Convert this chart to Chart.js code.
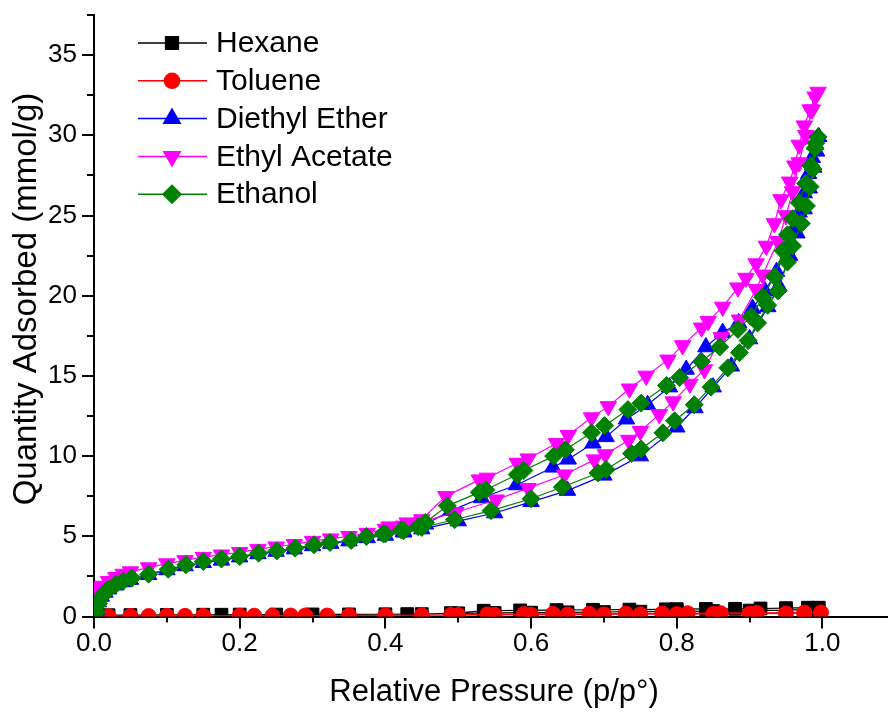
<!DOCTYPE html>
<html>
<head>
<meta charset="utf-8">
<script src="https://cdn.jsdelivr.net/npm/chart.js@4.4.1/dist/chart.umd.min.js"></script>
<style>
  html, body { margin: 0; padding: 0; background: #ffffff; }
  #wrap { width: 888px; height: 713px; }
</style>
</head>
<body>
<div id="wrap"><canvas id="isotherm" width="888" height="713"></canvas></div>
<script>
// Series names in legend order
const seriesNames = ['Hexane', 'Toluene', 'Diethyl Ether', 'Ethyl Acetate', 'Ethanol'];

// Axis tick labels (major ticks) and titles
const xMajorValues = [0, 0.2, 0.4, 0.6, 0.8, 1.0];
const xTickLabels = ['0.0', '0.2', '0.4', '0.6', '0.8', '1.0'];
const yMajorValues = [0, 5, 10, 15, 20, 25, 30, 35];
const yTickLabels = ['0', '5', '10', '15', '20', '25', '30', '35'];
const xTitle = 'Relative Pressure (p/p°)';
const yTitle = 'Quantity Adsorbed (mmol/g)';

// Hexane: adsorption then desorption (p/p°, mmol/g)
const hexaneAdsP = [0.005,0.02,0.05,0.1,0.15,0.175,0.2,0.25,0.3,0.35,0.4,0.43,0.45,0.49,0.5,0.55,0.6,0.65,0.7,0.75,0.8,0.85,0.9,0.95,0.98,0.995];
const hexaneAdsQ = [0.05,0.08,0.09,0.1,0.11,0.11,0.12,0.12,0.13,0.13,0.14,0.15,0.15,0.2,0.2,0.22,0.24,0.26,0.28,0.3,0.32,0.34,0.37,0.4,0.45,0.55];
const hexaneDesP = [0.98,0.95,0.915,0.88,0.84,0.8,0.785,0.735,0.685,0.635,0.585,0.535,0.49];
const hexaneDesQ = [0.55,0.52,0.5,0.48,0.47,0.46,0.45,0.43,0.42,0.4,0.38,0.36,0.2];

// Toluene
const tolueneAdsP = [0.02,0.05,0.075,0.1,0.125,0.15,0.2,0.22,0.245,0.27,0.29,0.32,0.35,0.4,0.45,0.5,0.55,0.6,0.65,0.7,0.75,0.8,0.85,0.9,0.95,0.975,0.998];
const tolueneAdsQ = [0.02,0.03,0.03,0.04,0.04,0.04,0.05,0.05,0.05,0.06,0.06,0.06,0.07,0.07,0.08,0.09,0.1,0.11,0.12,0.13,0.14,0.15,0.16,0.17,0.19,0.21,0.25];
const tolueneDesP = [0.975,0.91,0.86,0.815,0.78,0.73,0.68,0.63,0.59,0.54,0.49];
const tolueneDesQ = [0.24,0.22,0.21,0.2,0.19,0.18,0.17,0.16,0.15,0.13,0.1];

// Diethyl Ether
const etherAdsP = [0.003,0.006,0.01,0.015,0.02,0.03,0.04,0.05,0.075,0.1,0.125,0.15,0.175,0.2,0.225,0.25,0.275,0.3,0.325,0.35,0.375,0.4,0.425,0.45,0.5,0.55,0.6,0.65,0.7,0.75,0.8,0.825,0.85,0.875,0.9,0.925,0.94,0.955,0.965,0.975,0.982,0.988,0.992,0.995];
const etherAdsQ = [0.4,0.9,1.25,1.5,1.7,1.95,2.15,2.3,2.6,2.9,3.15,3.35,3.5,3.7,3.9,4.05,4.2,4.4,4.55,4.7,4.9,5.05,5.25,5.45,5.95,6.45,7.15,7.85,8.8,10.0,11.8,13.0,14.3,15.6,17.3,19.3,20.6,22.5,23.9,25.4,26.7,28.0,29.0,29.9];
const etherDesP = [0.99,0.986,0.981,0.975,0.968,0.96,0.95,0.937,0.921,0.904,0.885,0.863,0.84,0.813,0.79,0.76,0.731,0.703,0.685,0.651,0.63,0.58,0.532,0.49,0.455,0.425];
const etherDesQ = [29.4,28.6,27.6,26.4,25.2,24.1,22.9,21.5,20.3,19.2,18.3,17.7,16.8,15.4,14.3,13.2,12.3,11.2,10.8,9.8,9.3,8.2,7.39,6.6,5.75,5.3];

// Ethyl Acetate
const acetateAdsP = [0.002,0.005,0.01,0.02,0.03,0.04,0.05,0.075,0.1,0.125,0.15,0.175,0.2,0.225,0.25,0.275,0.3,0.325,0.35,0.375,0.4,0.425,0.45,0.497,0.552,0.596,0.646,0.687,0.702,0.734,0.75,0.776,0.795,0.818,0.838,0.861,0.886,0.909,0.918,0.939,0.95,0.959,0.968,0.977,0.986,0.994];
const acetateAdsQ = [1.5,1.7,1.9,2.2,2.45,2.65,2.8,3.05,3.3,3.5,3.7,3.85,4.0,4.2,4.35,4.5,4.7,4.85,5.0,5.2,5.45,5.65,5.9,6.5,7.28,8.0,8.84,9.78,10.1,11.0,11.55,12.6,13.4,14.5,15.4,17.4,18.5,20.4,21.3,23.4,25.0,26.5,28.3,30.0,31.6,32.7];
const acetateDesP = [0.99,0.983,0.975,0.968,0.962,0.955,0.943,0.934,0.923,0.909,0.895,0.884,0.863,0.843,0.834,0.808,0.788,0.758,0.735,0.706,0.683,0.651,0.635,0.596,0.581,0.54,0.529,0.483,0.45,0.43,0.405];
const acetateDesQ = [32.4,31.6,30.6,29.4,28.1,27.1,26.0,24.5,23.1,22.0,21.1,20.5,19.3,18.4,18.0,16.9,16.0,15.0,14.2,13.1,12.4,11.3,10.8,9.84,9.57,8.64,8.53,7.49,6.05,5.85,5.6];

// Ethanol
const ethanolAdsP = [0.003,0.006,0.01,0.015,0.02,0.03,0.04,0.052,0.075,0.102,0.126,0.15,0.175,0.2,0.226,0.251,0.276,0.302,0.324,0.353,0.374,0.4,0.425,0.45,0.495,0.545,0.6,0.643,0.692,0.703,0.738,0.751,0.781,0.797,0.824,0.847,0.87,0.886,0.898,0.911,0.925,0.939,0.952,0.959,0.971,0.978,0.983,0.987,0.991,0.994];
const ethanolAdsQ = [0.3,0.8,1.2,1.5,1.7,2.0,2.2,2.39,2.64,2.95,3.22,3.43,3.58,3.74,3.95,4.09,4.26,4.47,4.61,4.74,4.99,5.15,5.35,5.55,6.03,6.6,7.34,8.07,8.95,9.16,10.16,10.45,11.45,12.2,13.2,14.3,15.5,16.45,17.2,18.3,19.4,20.3,22.1,23.1,24.5,25.6,26.8,27.9,29.5,29.9];
const ethanolDesP = [0.99,0.984,0.977,0.968,0.959,0.952,0.946,0.934,0.918,0.902,0.884,0.859,0.834,0.804,0.786,0.751,0.733,0.701,0.683,0.647,0.631,0.59,0.581,0.538,0.529,0.485,0.455,0.445,0.422,0.397];
const ethanolDesQ = [29.2,28.1,27.0,25.8,24.8,23.8,22.8,21.2,19.9,18.7,17.9,16.8,15.9,14.9,14.4,13.3,12.9,11.9,11.45,10.4,10.0,9.1,8.85,7.9,7.74,6.9,5.86,5.6,5.4,5.16];

const FONT = '"Liberation Sans", Arial, Helvetica, sans-serif';

// Join an adsorption branch and its desorption branch into one loop of {x, y} points
function loop(adsP, adsQ, desP, desQ) {
  const pts = adsP.map((p, i) => ({ x: p, y: adsQ[i] }));
  return pts.concat(desP.map((p, i) => ({ x: p, y: desQ[i] })));
}

function series(name, data, color, style, radius, rotation, order) {
  return {
    label: name,
    data: data,
    showLine: true,
    borderColor: color,
    borderWidth: 1.2,
    backgroundColor: color,
    pointStyle: style,
    pointRotation: rotation,
    pointRadius: radius,
    pointBackgroundColor: color,
    pointBorderColor: color,
    pointBorderWidth: 1,
    tension: 0,
    clip: 0,
    order: order
  };
}

const datasets = [
  series(seriesNames[0], loop(hexaneAdsP, hexaneAdsQ, hexaneDesP, hexaneDesQ), '#000000', 'rect', 9, 0, 4),
  series(seriesNames[1], loop(tolueneAdsP, tolueneAdsQ, tolueneDesP, tolueneDesQ), '#ff0000', 'circle', 7.5, 0, 3),
  series(seriesNames[2], loop(etherAdsP, etherAdsQ, etherDesP, etherDesQ), '#0000ff', 'triangle', 9.5, 0, 2),
  series(seriesNames[3], loop(acetateAdsP, acetateAdsQ, acetateDesP, acetateDesQ), '#ff00ff', 'triangle', 9.5, 180, 1),
  series(seriesNames[4], loop(ethanolAdsP, ethanolAdsQ, ethanolDesP, ethanolDesQ), '#008000', 'rectRot', 9, 0, 0)
];

function labelFor(values, labels, v) {
  const i = values.findIndex(m => Math.abs(m - v) < 1e-6);
  return i >= 0 ? labels[i] : '';
}

// Outward major/minor tick marks on both axes
const tickMarks = {
  id: 'tickMarks',
  afterDraw(chart) {
    const { ctx, chartArea: a, scales: { x, y } } = chart;
    ctx.save();
    ctx.strokeStyle = '#000000';
    ctx.lineWidth = 2;
    x.ticks.forEach(t => {
      const px = Math.round(x.getPixelForValue(t.value));
      const len = t.label ? 12 : 6;
      ctx.beginPath();
      ctx.moveTo(px, a.bottom);
      ctx.lineTo(px, a.bottom + len);
      ctx.stroke();
    });
    y.ticks.forEach(t => {
      const py = Math.round(y.getPixelForValue(t.value));
      const len = t.label ? 12 : 7;
      ctx.beginPath();
      ctx.moveTo(a.left, py);
      ctx.lineTo(a.left - len, py);
      ctx.stroke();
    });
    ctx.restore();
  }
};

// Axis titles
const axisTitles = {
  id: 'axisTitles',
  afterDraw(chart) {
    const { ctx, chartArea: a } = chart;
    ctx.save();
    ctx.fillStyle = '#000000';
    ctx.textAlign = 'center';
    ctx.textBaseline = 'alphabetic';
    ctx.font = '31px ' + FONT;
    ctx.fillText(xTitle, (a.left + a.right) / 2 + 3, 701);
    ctx.font = '33px ' + FONT;
    ctx.translate(36, 299);
    ctx.rotate(-Math.PI / 2);
    ctx.fillText(yTitle, 0, 0);
    ctx.restore();
  }
};

// Legend: short line with the marker on it, then the series name
const seriesKey = {
  id: 'seriesKey',
  afterDraw(chart) {
    const ctx = chart.ctx;
    chart.data.datasets.forEach((ds, i) => {
      const y = 43 + i * 37.8;
      ctx.save();
      ctx.strokeStyle = ds.borderColor;
      ctx.lineWidth = 1.5;
      ctx.beginPath();
      ctx.moveTo(138, y);
      ctx.lineTo(207, y);
      ctx.stroke();
      ctx.fillStyle = ds.pointBackgroundColor;
      ctx.strokeStyle = ds.pointBorderColor;
      Chart.helpers.drawPoint(ctx, {
        pointStyle: ds.pointStyle,
        rotation: ds.pointRotation,
        radius: ds.pointRadius,
        borderWidth: 1
      }, 172, y);
      ctx.fillStyle = '#000000';
      ctx.font = '30px ' + FONT;
      ctx.textAlign = 'left';
      ctx.textBaseline = 'middle';
      ctx.fillText(ds.label, 216, y + 1);
      ctx.restore();
    });
  }
};

new Chart(document.getElementById('isotherm'), {
  type: 'scatter',
  data: { datasets: datasets },
  options: {
    responsive: false,
    animation: false,
    devicePixelRatio: 1,
    layout: { autoPadding: false, padding: { top: 15, right: 0, left: 0, bottom: 0 } },
    plugins: { legend: { display: false }, tooltip: { enabled: false } },
    scales: {
      x: {
        type: 'linear',
        min: 0,
        max: 1.09,
        z: 1,
        grid: { display: false, drawTicks: false },
        border: { display: true, color: '#000000', width: 2 },
        ticks: {
          stepSize: 0.1,
          includeBounds: false,
          autoSkip: false,
          maxRotation: 0,
          padding: 12,
          color: '#000000',
          font: { family: FONT, size: 26 },
          callback: v => labelFor(xMajorValues, xTickLabels, v)
        },
        afterFit(s) { s.height = 96.5; s.paddingLeft = 0; s.paddingRight = 0; }
      },
      y: {
        type: 'linear',
        min: 0,
        max: 37.5,
        z: 1,
        grid: { display: false, drawTicks: false },
        border: { display: true, color: '#000000', width: 2 },
        ticks: {
          stepSize: 2.5,
          autoSkip: false,
          padding: 17,
          color: '#000000',
          font: { family: FONT, size: 26 },
          callback: v => labelFor(yMajorValues, yTickLabels, v)
        },
        afterFit(s) { s.width = 94; s.paddingTop = 0; s.paddingBottom = 0; }
      }
    }
  },
  plugins: [tickMarks, axisTitles, seriesKey]
});
</script>
</body>
</html>
